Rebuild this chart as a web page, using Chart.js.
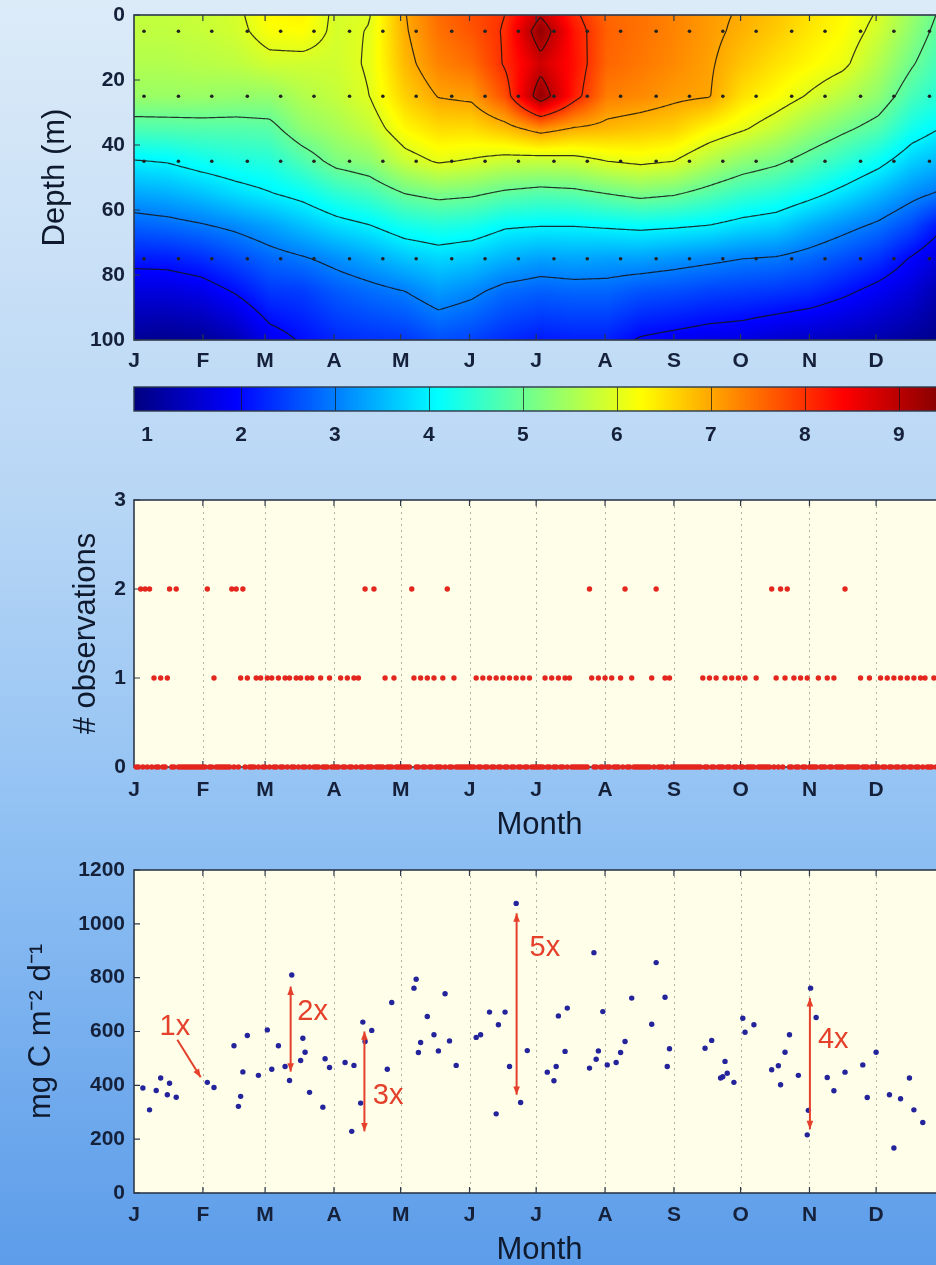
<!DOCTYPE html>
<html>
<head>
<meta charset="utf-8">
<script src="https://cdn.jsdelivr.net/npm/chart.js@4.4.1/dist/chart.umd.min.js"></script>
<style>
html, body { margin: 0; padding: 0; overflow: hidden; }
body {
    position: relative;
    width: 936px;
    height: 1265px;
    background: linear-gradient(to bottom, #dcebf8 0%, #b7d6f5 40%, #8fc0f3 66%, #5c9ce9 100%);
}
.panel { position: absolute; left: 0; width: 960px; }
</style>
</head>
<body>
<div class="panel" style="top:0;height:378px"><canvas id="depth-chart"></canvas></div>
<div class="panel" style="top:378px;height:84px"><canvas id="colorbar-chart"></canvas></div>
<div class="panel" style="top:480px;height:370px"><canvas id="obs-chart"></canvas></div>
<div class="panel" style="top:855px;height:420px"><canvas id="prod-chart"></canvas></div>
<script>
// Month axis (day of year)
const monthStarts = [0, 31, 59, 90, 120, 151, 181, 212, 243, 273, 304, 334];
const monthLabels = ['J', 'F', 'M', 'A', 'M', 'J', 'J', 'A', 'S', 'O', 'N', 'D'];

// Top panel: values on a grid, columns = day of year, one array per depth
const gridDays = [0, 15, 30, 46, 61, 76, 91, 106, 122, 137, 152, 167, 183, 198, 213, 228, 243, 259, 274, 289, 304, 319, 335, 350, 365];
const gridDepths = [0, 5, 15, 25, 35, 45, 55, 65, 75, 85, 100];
const depth0   = [5.75, 5.75, 5.80, 5.90, 6.30, 6.35, 5.90, 5.98, 6.98, 7.50, 7.75, 8.00, 8.95, 8.10, 7.55, 7.45, 7.30, 7.10, 6.95, 6.75, 6.50, 6.30, 5.95, 5.40, 4.85];
const depth5   = [5.72, 5.72, 5.77, 5.87, 6.20, 6.25, 5.90, 6.02, 6.95, 7.45, 7.70, 8.05, 9.35, 8.25, 7.60, 7.45, 7.30, 7.10, 6.90, 6.70, 6.45, 6.25, 5.85, 5.30, 4.75];
const depth15  = [5.60, 5.60, 5.65, 5.70, 5.85, 5.85, 5.85, 6.05, 6.85, 7.30, 7.50, 8.05, 8.80, 8.30, 7.55, 7.40, 7.25, 7.05, 6.75, 6.50, 6.30, 6.10, 5.60, 5.05, 4.55];
const depth25  = [5.40, 5.40, 5.40, 5.35, 5.35, 5.60, 5.75, 6.00, 6.65, 7.02, 7.10, 7.75, 9.35, 8.20, 7.35, 7.25, 7.10, 7.02, 6.50, 6.25, 5.95, 5.65, 5.30, 4.70, 4.35];
const depth35  = [4.76, 4.78, 4.80, 4.80, 4.85, 5.30, 5.50, 5.75, 6.30, 6.55, 6.55, 6.80, 7.20, 6.95, 6.85, 6.75, 6.65, 6.30, 6.05, 5.75, 5.40, 5.10, 4.80, 4.25, 3.95];
const depth45  = [3.97, 4.03, 4.20, 4.33, 4.40, 4.75, 5.15, 5.30, 5.80, 6.05, 5.95, 5.80, 5.75, 5.80, 6.00, 6.10, 6.00, 5.60, 5.30, 5.10, 4.80, 4.50, 4.15, 3.70, 3.45];
const depth55  = [3.35, 3.43, 3.58, 3.80, 3.97, 4.15, 4.45, 4.65, 5.00, 5.15, 5.08, 4.90, 4.80, 4.85, 5.00, 5.15, 5.05, 4.80, 4.55, 4.40, 4.15, 3.85, 3.50, 3.15, 2.90];
const depth65  = [2.75, 2.82, 2.94, 3.10, 3.30, 3.55, 3.80, 3.97, 4.25, 4.35, 4.28, 4.05, 4.00, 4.00, 4.05, 4.10, 4.05, 3.97, 3.80, 3.70, 3.40, 3.15, 2.90, 2.55, 2.00];
const depth75  = [2.15, 2.18, 2.31, 2.56, 2.80, 2.95, 3.15, 3.35, 3.60, 3.75, 3.65, 3.45, 3.30, 3.35, 3.30, 3.30, 3.20, 3.10, 3.00, 2.95, 2.80, 2.60, 2.35, 1.95, 1.55];
const depth85  = [1.65, 1.65, 1.75, 2.05, 2.40, 2.45, 2.70, 2.85, 3.00, 3.25, 3.10, 2.85, 2.75, 2.80, 2.80, 2.65, 2.60, 2.50, 2.45, 2.40, 2.30, 2.10, 1.85, 1.60, 1.20];
const depth100 = [1.05, 1.00, 1.05, 1.30, 1.80, 2.05, 2.25, 2.35, 2.40, 2.60, 2.50, 2.30, 2.15, 2.20, 2.20, 1.95, 1.85, 1.75, 1.70, 1.55, 1.45, 1.35, 1.25, 1.10, 0.90];
const depthRows = [depth0, depth5, depth15, depth25, depth35, depth45, depth55, depth65, depth75, depth85, depth100];

// Sampling stations shown as dots
const sampleDays = [4.5, 20, 35, 51, 66, 81, 97, 112, 127, 143, 158, 173, 189, 204, 219, 235, 250, 265, 280, 296, 311, 327, 342, 358];
const sampleDepths = [5, 25, 45, 75];

// Colour scale
const colorLimits = [0.862, 9.49];
const colorTicks = [1, 2, 3, 4, 5, 6, 7, 8, 9];
const contourLevels = [2, 3, 4, 5, 6, 7, 8, 9];

// Middle panel: days with one or two observations
const obsTwice = [3, 5, 7, 16, 19, 33, 44, 46, 49, 104, 108, 125, 141, 205, 221, 235, 287, 291, 294, 320];
const obsOnce = [9, 12, 15, 36, 48, 51, 55, 57, 60, 62, 65, 68, 70, 73, 75, 78, 80, 84, 88, 93, 96, 99, 101,
    113, 117, 126, 129, 132, 135, 139, 144, 154, 157, 160, 163, 166, 169, 172, 175, 178,
    185, 188, 191, 194, 196, 206, 209, 212, 215, 219, 224, 233, 239, 241, 256, 259, 262, 266, 269, 272, 275, 280,
    289, 293, 297, 300, 303, 308, 312, 315, 327, 331, 336, 339, 342, 345, 348, 351, 354, 356, 360];

// Bottom panel: primary production
const prodDays = [4, 7, 10, 12, 15, 16, 19, 33, 36, 45, 47, 48, 49, 51, 56, 60, 62, 65, 68, 70, 71, 75, 76, 77, 79,
    85, 86, 88, 95, 98, 99, 102, 103, 104, 107, 114, 116, 126, 127, 128, 129, 132, 135, 137, 140, 142, 145,
    154, 156, 160, 163, 164, 167, 169, 172, 174, 177, 186, 189, 190, 191, 194, 195,
    205, 207, 208, 209, 211, 213, 217, 219, 221, 224, 233, 235, 239, 240, 241,
    257, 260, 264, 265, 266, 267, 270, 274, 275, 279, 287, 290, 291, 293, 295, 299,
    303, 303.5, 304.5, 307, 312, 315, 320, 328, 330, 334, 340, 342, 345, 349, 351, 355];
const prodValues = [390, 309, 381, 427, 365, 408, 356, 411, 392, 547, 322, 359, 450, 585, 437, 606, 460, 547, 470, 418, 810, 492, 575, 523, 374,
    319, 499, 466, 485, 229, 474, 334, 635, 563, 604, 460, 708, 761, 794, 522, 559, 656, 588, 528, 740, 565, 474,
    578, 588, 672, 294, 625, 672, 470, 1076, 336, 529, 449, 417, 470, 658, 526, 687,
    464, 893, 497, 528, 674, 476, 485, 522, 563, 724, 627, 856, 727, 470, 536,
    538, 567, 427, 432, 489, 445, 411, 649, 597, 625, 458, 473, 402, 523, 588, 437,
    216, 307, 761, 652, 429, 380, 449, 476, 355, 523, 365, 167, 350, 427, 309, 262];

// Fold-change annotations (data coordinates)
const foldArrows = [
    { label: '1x', from: [19.5, 569], to: [30, 430], text: [11.5, 618], bothEnds: false },
    { label: '2x', from: [70.5, 451], to: [70.5, 767], text: [73.5, 674], bothEnds: true },
    { label: '3x', from: [103.7, 229], to: [103.7, 600], text: [107.5, 359], bothEnds: true },
    { label: '5x', from: [172.2, 365], to: [172.2, 1039], text: [178, 909], bothEnds: true },
    { label: '4x', from: [304.2, 237], to: [304.2, 724], text: [307.8, 569], bothEnds: true }
];

const fontFamily = "'Liberation Sans', Arial, Helvetica, sans-serif";
const tickFont = { family: fontFamily, size: 21, weight: 'bold' };
const tickColor = '#15213a';
const frameColor = '#2d394b';

function clamp01(v) { return Math.max(0, Math.min(1, v)); }

function jet(v) {
    const t = clamp01((v - colorLimits[0]) / (colorLimits[1] - colorLimits[0]));
    return [
        255 * clamp01(1.5 - Math.abs(4 * t - 3)),
        255 * clamp01(1.5 - Math.abs(4 * t - 2)),
        255 * clamp01(1.5 - Math.abs(4 * t - 1))
    ];
}

function fieldValue(day, depth) {
    let i = 0;
    while (i < gridDays.length - 2 && day > gridDays[i + 1]) i++;
    let j = 0;
    while (j < gridDepths.length - 2 && depth > gridDepths[j + 1]) j++;
    const tx = clamp01((day - gridDays[i]) / (gridDays[i + 1] - gridDays[i]));
    const ty = clamp01((depth - gridDepths[j]) / (gridDepths[j + 1] - gridDepths[j]));
    const a = depthRows[j], b = depthRows[j + 1];
    return (a[i] * (1 - tx) + a[i + 1] * tx) * (1 - ty) + (b[i] * (1 - tx) + b[i + 1] * tx) * ty;
}

// Filled field + contour lines for the top panel
function drawHeatmap(chart) {
    const {ctx, chartArea: area, scales: {x, y}} = chart;
    const left = Math.round(area.left), top = Math.round(area.top);
    const w = Math.round(area.right) - left, h = Math.round(area.bottom) - top;

    const off = document.createElement('canvas');
    off.width = w; off.height = h;
    const octx = off.getContext('2d');
    const img = octx.createImageData(w, h);
    for (let py = 0; py < h; py++) {
        const depth = y.getValueForPixel(top + py + 0.5);
        for (let px = 0; px < w; px++) {
            const c = jet(fieldValue(x.getValueForPixel(left + px + 0.5), depth));
            const k = (py * w + px) * 4;
            img.data[k] = c[0]; img.data[k + 1] = c[1]; img.data[k + 2] = c[2]; img.data[k + 3] = 255;
        }
    }
    octx.putImageData(img, 0, 0);
    ctx.drawImage(off, left, top);

    // marching squares on a 2px sampling of the field
    const s = 2;
    const nx = Math.ceil(w / s) + 1, ny = Math.ceil(h / s) + 1;
    const f = [];
    for (let j = 0; j < ny; j++) {
        const row = [];
        const depth = y.getValueForPixel(top + Math.min(j * s, h));
        for (let i = 0; i < nx; i++) row.push(fieldValue(x.getValueForPixel(left + Math.min(i * s, w)), depth));
        f.push(row);
    }
    ctx.save();
    ctx.beginPath();
    ctx.rect(left, top, w, h);
    ctx.clip();
    ctx.strokeStyle = 'rgba(20,20,20,0.85)';
    ctx.lineWidth = 1.2;
    contourLevels.forEach(lev => {
        ctx.beginPath();
        for (let j = 0; j < ny - 1; j++) {
            for (let i = 0; i < nx - 1; i++) {
                const v0 = f[j][i], v1 = f[j][i + 1], v2 = f[j + 1][i + 1], v3 = f[j + 1][i];
                const idx = (v0 > lev ? 8 : 0) | (v1 > lev ? 4 : 0) | (v2 > lev ? 2 : 0) | (v3 > lev ? 1 : 0);
                if (idx === 0 || idx === 15) continue;
                const x0 = left + i * s, y0 = top + j * s;
                const T = () => [x0 + s * (lev - v0) / (v1 - v0), y0];
                const R = () => [x0 + s, y0 + s * (lev - v1) / (v2 - v1)];
                const B = () => [x0 + s * (lev - v3) / (v2 - v3), y0 + s];
                const L = () => [x0, y0 + s * (lev - v0) / (v3 - v0)];
                const segs = {
                    1: [[L, B]], 2: [[B, R]], 3: [[L, R]], 4: [[T, R]], 5: [[T, R], [L, B]],
                    6: [[T, B]], 7: [[T, L]], 8: [[T, L]], 9: [[T, B]], 10: [[T, L], [B, R]],
                    11: [[T, R]], 12: [[L, R]], 13: [[B, R]], 14: [[L, B]]
                }[idx];
                segs.forEach(([p, q]) => {
                    const a = p(), b = q();
                    ctx.moveTo(a[0], a[1]);
                    ctx.lineTo(b[0], b[1]);
                });
            }
        }
        ctx.stroke();
    });
    ctx.restore();
}

// Background, grid, frame and inward ticks for the month panels
const panelPlugin = {
    id: 'panel',
    beforeDatasetsDraw(chart, args, opts) {
        const {ctx, chartArea: a, scales: {x, y}} = chart;
        ctx.save();
        if (opts.background) {
            ctx.fillStyle = opts.background;
            ctx.fillRect(a.left, a.top, a.right - a.left, a.bottom - a.top);
        }
        if (opts.heatmap) drawHeatmap(chart);
        if (opts.dottedGrid) {
            ctx.strokeStyle = '#b3b3a0';
            ctx.lineWidth = 1;
            ctx.setLineDash([2, 4]);
            monthStarts.slice(1).forEach(d => {
                const px = Math.round(x.getPixelForValue(d)) + 0.5;
                ctx.beginPath();
                ctx.moveTo(px, a.top);
                ctx.lineTo(px, a.bottom);
                ctx.stroke();
            });
            ctx.setLineDash([]);
        }
        ctx.strokeStyle = frameColor;
        ctx.lineWidth = 1.6;
        ctx.strokeRect(a.left, a.top, a.right - a.left, a.bottom - a.top);
        ctx.lineWidth = 1.2;
        ctx.beginPath();
        monthStarts.slice(1).forEach(d => {
            const px = x.getPixelForValue(d);
            ctx.moveTo(px, a.bottom); ctx.lineTo(px, a.bottom - 6);
            ctx.moveTo(px, a.top); ctx.lineTo(px, a.top + 6);
        });
        y.ticks.forEach(t => {
            const py = y.getPixelForValue(t.value);
            ctx.moveTo(a.left, py); ctx.lineTo(a.left + 6, py);
        });
        ctx.stroke();
        ctx.restore();
    }
};

function monthAxis(height, pad, withTitle, titlePadBottom) {
    return {
        type: 'linear',
        min: 0,
        max: 365,
        grid: { display: false },
        border: { display: false },
        afterBuildTicks: scale => { scale.ticks = monthStarts.map(v => ({ value: v })); },
        afterFit: scale => { scale.height = height; },
        ticks: {
            autoSkip: false,
            maxRotation: 0,
            padding: pad,
            color: tickColor,
            font: tickFont,
            callback: (value, index) => monthLabels[index]
        },
        title: {
            display: withTitle,
            text: 'Month',
            color: '#0f1a2e',
            font: { family: fontFamily, size: 31 },
            padding: { top: 0, bottom: titlePadBottom || 0 }
        }
    };
}

function leftAxis(min, max, step, title, titlePadTop, tickPad, extra) {
    return Object.assign({
        min: min,
        max: max,
        grid: { display: false },
        border: { display: false },
        afterFit: scale => { scale.width = 134; },
        ticks: { stepSize: step, padding: tickPad, color: tickColor, font: tickFont, callback: v => String(v) },
        title: {
            display: true,
            text: title,
            color: '#0f1a2e',
            font: { family: fontFamily, size: 31 },
            padding: { top: titlePadTop, bottom: 0 }
        }
    }, extra || {});
}

const baseOptions = {
    animation: false,
    responsive: true,
    maintainAspectRatio: false,
    events: []
};

// Top panel
const samplePoints = [];
sampleDepths.forEach(dep => sampleDays.forEach(day => samplePoints.push({ x: day, y: dep })));

new Chart(document.getElementById('depth-chart'), {
    type: 'scatter',
    data: {
        datasets: [{
            data: samplePoints,
            pointRadius: 1.8,
            pointBorderWidth: 0,
            pointBackgroundColor: '#222222'
        }]
    },
    options: Object.assign({}, baseOptions, {
        layout: { padding: { top: 15, right: 15, bottom: 0, left: 0 } },
        plugins: { legend: { display: false }, tooltip: { enabled: false }, panel: { heatmap: true } },
        scales: {
            x: monthAxis(38, 1, false),
            y: leftAxis(0, 100, 20, 'Depth (m)', 37, 1, { reverse: true })
        }
    }),
    plugins: [panelPlugin]
});

// Colour bar
const colorbarPlugin = {
    id: 'colorbar',
    beforeDatasetsDraw(chart) {
        const {ctx, chartArea: a, scales: {x}} = chart;
        ctx.save();
        for (let px = Math.floor(a.left); px < Math.ceil(a.right); px++) {
            const c = jet(x.getValueForPixel(px + 0.5));
            ctx.fillStyle = 'rgb(' + c.map(Math.round).join(',') + ')';
            ctx.fillRect(px, a.top, 1, a.bottom - a.top);
        }
        ctx.strokeStyle = 'rgba(20,20,20,0.7)';
        ctx.lineWidth = 1;
        contourLevels.forEach(v => {
            const px = Math.round(x.getPixelForValue(v)) + 0.5;
            ctx.beginPath();
            ctx.moveTo(px, a.top);
            ctx.lineTo(px, a.bottom);
            ctx.stroke();
        });
        ctx.strokeStyle = frameColor;
        ctx.lineWidth = 1.4;
        ctx.strokeRect(a.left, a.top, a.right - a.left, a.bottom - a.top);
        ctx.restore();
    }
};

new Chart(document.getElementById('colorbar-chart'), {
    type: 'scatter',
    data: { datasets: [] },
    options: Object.assign({}, baseOptions, {
        layout: { padding: { top: 9, right: 15, bottom: 0, left: 134 } },
        plugins: { legend: { display: false }, tooltip: { enabled: false } },
        scales: {
            x: {
                type: 'linear',
                min: colorLimits[0],
                max: colorLimits[1],
                grid: { display: false },
                border: { display: false },
                afterBuildTicks: scale => { scale.ticks = colorTicks.map(v => ({ value: v })); },
                afterFit: scale => { scale.height = 51; },
                ticks: { padding: 4, color: tickColor, font: tickFont }
            },
            y: { display: false, min: 0, max: 1 }
        }
    }),
    plugins: [colorbarPlugin]
});

// Middle panel
const obsNone = [];
for (let d = 1; d <= 365; d++) {
    if (!obsOnce.includes(d) && !obsTwice.includes(d)) obsNone.push(d);
}
const obsColor = '#e3261e';
function obsSeries(days, count) {
    return {
        data: days.map(d => ({ x: d, y: count })),
        pointRadius: 2.7,
        pointBorderWidth: 0,
        pointBackgroundColor: obsColor,
        clip: false
    };
}

new Chart(document.getElementById('obs-chart'), {
    type: 'scatter',
    data: { datasets: [obsSeries(obsNone, 0), obsSeries(obsOnce, 1), obsSeries(obsTwice, 2)] },
    options: Object.assign({}, baseOptions, {
        layout: { padding: { top: 20, right: 15, bottom: 0, left: 0 } },
        plugins: { legend: { display: false }, tooltip: { enabled: false }, panel: { background: '#fffee9', dottedGrid: true } },
        scales: {
            x: monthAxis(83, 3, true, 6),
            y: leftAxis(0, 3, 1, '# observations', 68, 0)
        }
    }),
    plugins: [panelPlugin]
});

// Bottom panel
const arrowPlugin = {
    id: 'foldArrows',
    afterDatasetsDraw(chart) {
        const {ctx, scales: {x, y}} = chart;
        const red = '#e4402b';
        const head = (x1, y1, x2, y2) => {
            const ang = Math.atan2(y2 - y1, x2 - x1);
            const size = 9;
            ctx.beginPath();
            ctx.moveTo(x2, y2);
            ctx.lineTo(x2 - size * Math.cos(ang - 0.38), y2 - size * Math.sin(ang - 0.38));
            ctx.lineTo(x2 - size * Math.cos(ang + 0.38), y2 - size * Math.sin(ang + 0.38));
            ctx.closePath();
            ctx.fill();
        };
        ctx.save();
        ctx.strokeStyle = red;
        ctx.fillStyle = red;
        ctx.lineWidth = 2;
        foldArrows.forEach(ar => {
            const x1 = x.getPixelForValue(ar.from[0]), y1 = y.getPixelForValue(ar.from[1]);
            const x2 = x.getPixelForValue(ar.to[0]), y2 = y.getPixelForValue(ar.to[1]);
            ctx.beginPath();
            ctx.moveTo(x1, y1);
            ctx.lineTo(x2, y2);
            ctx.stroke();
            head(x1, y1, x2, y2);
            if (ar.bothEnds) head(x2, y2, x1, y1);
            ctx.font = '29px ' + fontFamily;
            ctx.textAlign = 'left';
            ctx.textBaseline = 'middle';
            ctx.fillText(ar.label, x.getPixelForValue(ar.text[0]), y.getPixelForValue(ar.text[1]));
        });
        ctx.restore();
    }
};

new Chart(document.getElementById('prod-chart'), {
    type: 'scatter',
    data: {
        datasets: [{
            data: prodDays.map((d, i) => ({ x: d, y: prodValues[i] })),
            pointRadius: 2.7,
            pointBorderWidth: 0,
            pointBackgroundColor: '#23239b'
        }]
    },
    options: Object.assign({}, baseOptions, {
        layout: { padding: { top: 15, right: 15, bottom: 0, left: 0 } },
        plugins: { legend: { display: false }, tooltip: { enabled: false }, panel: { background: '#fffee9', dottedGrid: true } },
        scales: {
            x: monthAxis(82, 2, true, 6),
            y: leftAxis(0, 1200, 200, 'mg C m\u207B\u00B2 d\u207B\u00B9', 23, 1)
        }
    }),
    plugins: [panelPlugin, arrowPlugin]
});
</script>
</body>
</html>
